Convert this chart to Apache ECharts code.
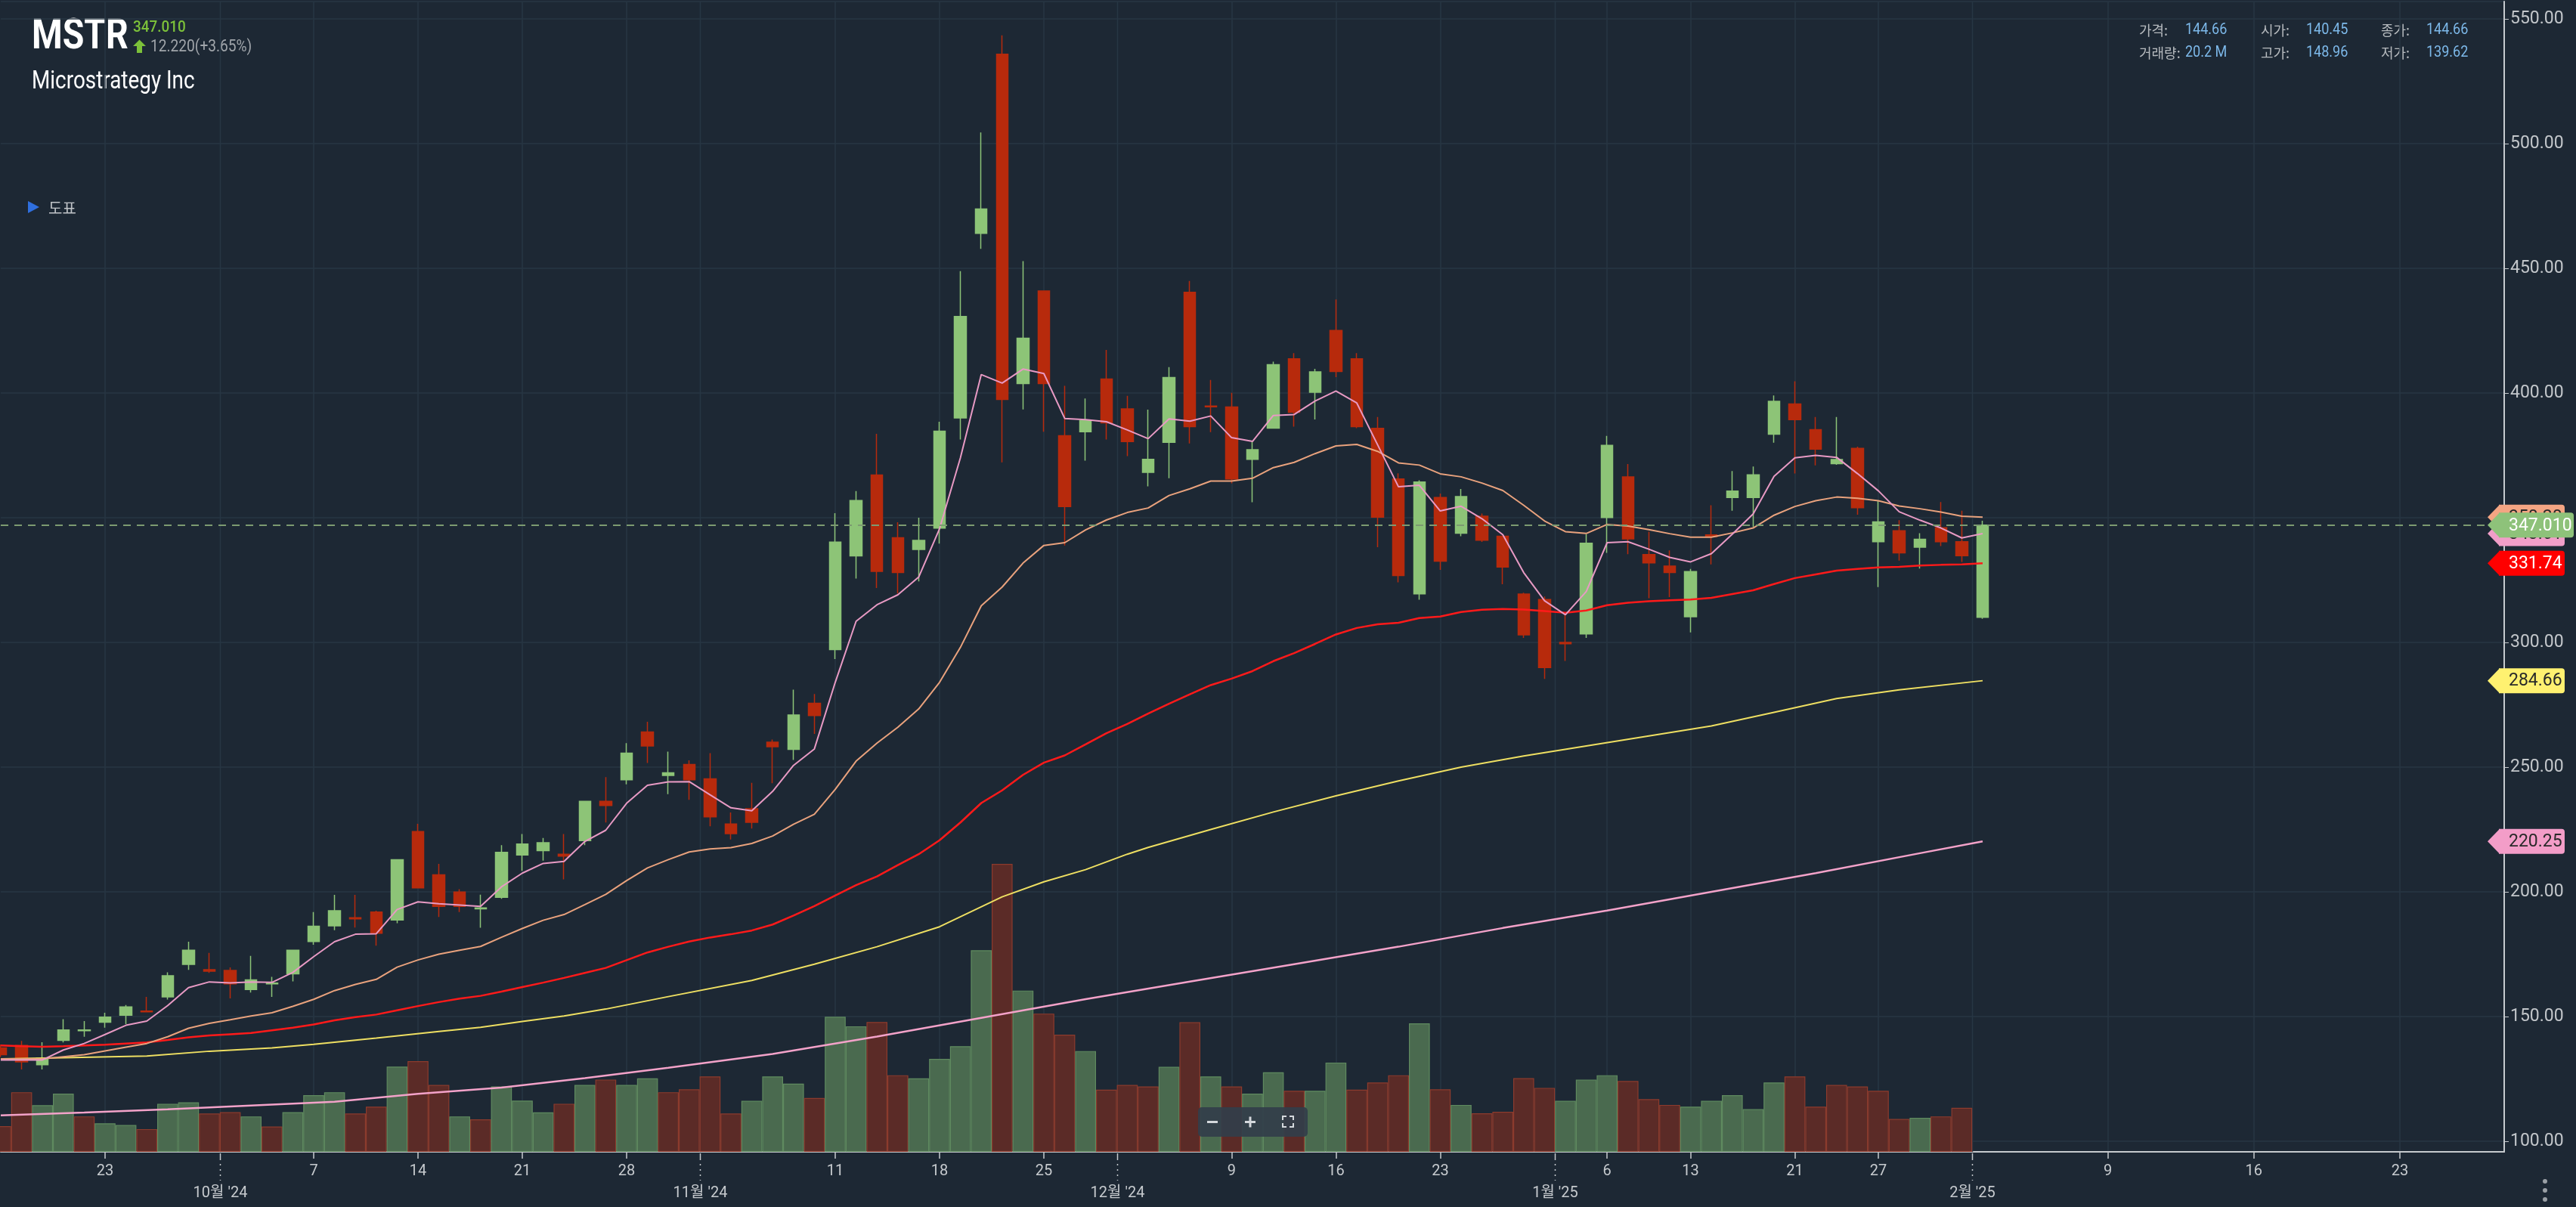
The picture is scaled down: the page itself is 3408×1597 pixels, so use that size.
<!DOCTYPE html>
<html><head><meta charset="utf-8">
<script src="https://cdn.jsdelivr.net/npm/echarts@6/dist/echarts.min.js"></script>
<style>html,body{margin:0;padding:0;background:#1d2834;}#c{width:3408px;height:1597px;}</style>
</head><body><div id="c"></div><script>
const categories = [
'2024-09-16','2024-09-17','2024-09-18','2024-09-19','2024-09-20',
'2024-09-23','2024-09-24','2024-09-25','2024-09-26','2024-09-27',
'2024-09-30','2024-10-01','2024-10-02','2024-10-03','2024-10-04',
'2024-10-07','2024-10-08','2024-10-09','2024-10-10','2024-10-11',
'2024-10-14','2024-10-15','2024-10-16','2024-10-17','2024-10-18',
'2024-10-21','2024-10-22','2024-10-23','2024-10-24','2024-10-25',
'2024-10-28','2024-10-29','2024-10-30','2024-10-31','2024-11-01',
'2024-11-04','2024-11-05','2024-11-06','2024-11-07','2024-11-08',
'2024-11-11','2024-11-12','2024-11-13','2024-11-14','2024-11-15',
'2024-11-18','2024-11-19','2024-11-20','2024-11-21','2024-11-22',
'2024-11-25','2024-11-26','2024-11-27','2024-11-29',
'2024-12-02','2024-12-03','2024-12-04','2024-12-05','2024-12-06',
'2024-12-09','2024-12-10','2024-12-11','2024-12-12','2024-12-13',
'2024-12-16','2024-12-17','2024-12-18','2024-12-19','2024-12-20',
'2024-12-23','2024-12-24','2024-12-26','2024-12-27',
'2024-12-30','2024-12-31','2025-01-02','2025-01-03',
'2025-01-06','2025-01-07','2025-01-08','2025-01-10',
'2025-01-13','2025-01-14','2025-01-15','2025-01-16','2025-01-17',
'2025-01-21','2025-01-22','2025-01-23','2025-01-24',
'2025-01-27','2025-01-28','2025-01-29','2025-01-30','2025-01-31',
'2025-02-03',
'2025-02-04','2025-02-05','2025-02-06','2025-02-07','2025-02-08','2025-02-09','2025-02-10',
'2025-02-11','2025-02-12','2025-02-13','2025-02-14','2025-02-15','2025-02-16','2025-02-17',
'2025-02-18','2025-02-19','2025-02-20','2025-02-21','2025-02-22','2025-02-23','2025-02-24',
'2025-02-25','2025-02-26','2025-02-27','2025-02-28'
];
const opens = [137.4,138.4,130.7,140.45,144.3,147.7,150.5,152.2,157.9,170.9,
168.8,168.5,160.8,163.1,167.1,180.1,186.4,189.6,191.9,188.7,
224.2,206.8,199.9,193.2,197.8,214.8,216.5,215.1,220.5,236.3,
244.9,264.1,246.7,251.1,245.3,227.2,233.3,260.0,257.1,275.6,
297.1,334.7,367.1,342.0,337.3,345.8,390.0,464.0,535.8,403.8,
440.9,382.9,384.5,405.6,393.6,368.2,380.2,440.4,394.8,394.4,
373.4,385.9,413.7,400.3,425.1,413.7,385.8,365.5,319.5,358.1,
343.8,350.6,342.6,319.4,317.2,300.0,303.4,350.1,366.4,335.2,
330.6,310.3,343.1,358.1,358.1,383.5,395.6,385.3,371.7,377.8,
340.4,344.8,338.2,346.0,340.4,310.1];
const highs = [138.8,140.2,139.7,148.96,148.2,151.5,154.6,157.9,167.7,180.0,
175.5,169.7,174.3,165.9,176.6,191.9,198.8,198.8,192.4,213.1,
227.3,211.2,201.1,198.9,218.7,223.2,221.6,223.2,236.5,246.0,
259.6,268.2,256.2,252.7,255.6,231.8,243.7,261.1,281.1,279.3,
351.8,360.7,383.6,348.2,350.0,388.5,448.9,504.5,543.4,452.9,
440.9,402.9,397.8,417.3,398.9,393.3,410.4,444.9,405.2,400.1,
380.3,412.6,416.0,409.7,437.5,416.0,390.4,367.8,365.0,359.7,
361.5,351.7,342.6,319.9,318.4,311.3,343.4,382.8,371.5,344.4,
336.9,329.5,355.0,368.7,370.5,399.0,404.7,390.4,390.4,378.5,
356.8,349.0,343.8,356.3,352.8,348.8];
const lows = [133.8,128.8,128.8,139.62,141.9,145.5,147.0,151.7,156.8,168.7,
167.5,157.3,159.6,157.9,164.1,178.8,184.6,185.7,178.4,187.4,
201.6,189.9,191.9,185.6,197.2,208.4,212.5,205.0,218.7,227.8,
243.1,251.7,239.2,236.9,226.3,221.0,225.4,243.6,252.9,263.3,
293.3,325.6,321.8,319.6,324.5,339.6,381.4,457.8,372.2,393.4,
384.5,338.9,372.9,381.4,374.7,362.6,365.8,379.8,384.3,363.8,
356.2,385.9,386.5,389.4,406.4,385.9,338.2,324.1,317.1,329.1,
342.6,340.3,323.3,301.8,285.4,292.6,301.8,335.9,335.4,317.7,
318.2,304.0,331.3,352.8,346.3,380.1,367.7,371.0,371.2,351.2,
322.2,332.8,329.6,338.6,332.3,309.5];
const closes = [134.7,131.8,133.3,144.66,144.6,149.8,153.9,151.9,166.4,176.6,
168.2,163.1,164.7,163.4,176.6,186.2,192.4,189.2,183.4,212.9,
201.6,194.2,194.2,193.6,215.8,219.2,219.7,214.3,236.3,234.6,
255.6,258.5,247.7,244.9,230.1,223.3,227.9,258.2,270.9,270.7,
340.2,356.9,328.5,328.0,340.9,384.7,430.7,473.8,397.4,422.0,
403.8,354.5,388.9,388.0,380.5,373.4,406.2,386.5,394.5,365.5,
377.3,411.4,392.3,408.5,408.6,386.5,350.2,326.8,364.3,332.6,
358.5,341.0,330.2,303.0,289.9,299.5,339.8,379.0,341.5,331.9,
328.0,328.4,342.4,360.7,367.2,396.7,389.3,377.5,373.3,354.0,
348.3,335.9,341.4,340.4,334.79,347.01];
// volume in millions of shares
const volumes = [8.9,20.7,16.2,20.2,12.3,9.9,9.3,7.9,16.7,17.2,
13.3,13.8,12.3,8.8,13.8,19.7,20.7,13.3,15.7,29.6,
31.5,23.2,12.3,11.3,22.7,17.8,13.7,16.7,23.2,25.1,
23.2,25.5,20.7,21.7,26.2,13.3,17.7,26.2,23.7,18.7,
46.9,43.6,45.1,26.6,25.5,32.3,36.7,70.0,100.0,56.0,
48.0,40.7,35.0,21.6,23.2,22.7,29.5,45.0,26.2,22.7,
20.2,27.6,21.2,21.2,31.0,21.6,24.1,26.6,44.6,21.7,
16.3,13.4,13.9,25.6,22.2,17.7,25.1,26.6,24.6,18.3,
16.3,15.7,17.7,19.7,14.8,24.1,26.2,15.7,23.2,22.7,
21.2,11.4,11.8,12.3,15.3,null];
const ma5 = [132.6,132.6,132.6,136.6,139.2,142.8,146.5,148.2,154.4,161.6,
163.9,163.5,163.9,163.7,167.7,174.0,180.0,183.0,183.2,192.9,
196.0,195.2,194.7,194.2,202.0,207.5,211.4,212.2,220.2,224.7,
235.5,242.7,244.1,244.2,238.9,233.7,232.5,240.3,250.7,257.3,
284.0,308.5,315.1,319.1,326.2,345.6,374.0,407.4,404.0,409.6,
407.8,389.8,389.3,388.5,385.2,381.7,389.6,388.7,390.8,382.1,
380.6,391.0,391.4,396.8,400.8,396.0,379.2,362.4,363.0,352.7,
354.6,349.6,343.2,328.0,316.7,311.1,320.4,340.0,340.4,337.4,
334.1,332.3,335.6,343.4,351.5,366.6,374.0,375.0,374.2,367.7,
360.8,352.4,349.0,345.9,341.9,343.61];
const ma10 = [133.0,133.0,133.0,133.9,134.7,136.2,137.7,139.2,141.9,145.3,
147.3,148.7,150.2,151.5,154.1,156.9,160.4,162.9,164.9,169.8,
172.7,175.0,176.6,178.1,181.8,185.3,188.6,190.9,194.9,199.0,
204.5,209.6,212.9,216.0,217.2,217.7,219.4,222.4,227.1,231.1,
241.1,252.4,259.6,266.0,273.3,284.0,298.0,314.7,322.2,331.8,
338.9,340.0,345.1,349.1,352.1,353.9,358.9,361.6,364.7,364.7,
365.8,370.1,372.2,375.7,378.8,379.4,376.6,372.0,371.1,367.6,
366.4,363.9,360.9,355.0,348.7,344.4,343.7,347.3,346.7,345.2,
343.6,342.2,342.2,343.9,345.9,351.0,354.5,356.8,358.3,357.8,
356.8,354.7,353.6,352.3,350.6,350.2];
const ma20 = [138.4,138.1,137.9,138.1,138.4,138.7,139.2,139.6,140.6,141.7,
142.4,142.9,143.4,144.5,145.5,146.8,148.5,149.8,150.8,152.5,
154.2,155.8,157.2,158.3,160.0,161.8,163.6,165.5,167.5,169.5,
172.6,175.7,178.0,180.1,181.7,183.0,184.5,186.9,190.5,194.3,
198.5,202.7,206.2,210.7,215.1,220.7,227.8,235.6,240.7,246.9,
251.8,254.7,259.1,263.6,267.3,271.5,275.4,279.2,282.9,285.5,
288.5,292.5,295.7,299.4,303.2,305.8,307.3,307.9,309.8,310.4,
312.2,313.1,313.4,313.2,312.6,311.9,312.8,314.9,315.9,316.5,
316.9,317.2,317.9,319.4,320.9,323.4,325.8,327.3,328.8,329.5,
330.1,330.3,330.8,331.1,331.3,331.74];
// [day index, value] read along the slow averages
const ma60 = [[0,133.0],[3,133.5],[7,134.2],[10,136.1],[13,137.4],[15,138.9],[18,141.4],[21,144.0],[23,145.7],[25,148.0],[27,150.2],[29,153.0],[32,158.0],[36,164.5],[39,171.0],[42,178.0],[45,186.0],[48,198.0],[50,204.0],[52,208.9],[54,215.1],[55,217.8],[58,225.0],[61,232.0],[64,238.5],[67,244.5],[70,250.0],[73,254.5],[76,258.5],[79,262.5],[82,266.5],[85,272.0],[88,277.5],[91,281.0],[95,284.66]];
const ma120 = [[0,110.4],[4,111.5],[8,112.8],[12,114.3],[16,115.8],[20,119.0],[24,121.5],[28,125.3],[32,129.5],[37,135.0],[42,142.0],[47,149.5],[52,157.0],[57,164.0],[62,171.0],[67,178.0],[72,185.5],[77,192.5],[82,200.0],[87,207.5],[92,215.5],[95,220.25]];
const dayTicks = ['2024-09-23','2024-10-07','2024-10-14','2024-10-21','2024-10-28','2024-11-11','2024-11-18','2024-11-25','2024-12-09','2024-12-16','2024-12-23','2025-01-06','2025-01-13','2025-01-21','2025-01-27','2025-02-09','2025-02-16','2025-02-23'];
const monthFirstDays = ['2024-10-01','2024-11-01','2024-12-02','2025-01-02','2025-02-03'];
const monthLabels = ["10월 '24","11월 '24","12월 '24","1월 '25","2월 '25"];
const infoIndex = 3;

const BG = '#1d2834', AX = '#c6cace';
const UP = '#8dc477', DOWN = '#b72a0c';
const lastIdx = closes.length - 1;
const yMin = 95.76, yMax = 556.97;
const tickSet = new Set(dayTicks);
const showTick = (i, v) => tickSet.has(v);

const candleData = opens.map((o, i) => [o, closes[i], lows[i], highs[i]]);
const volData = volumes.map((v, i) => {
  const up = i === 0 ? closes[0] >= opens[0] : closes[i] >= closes[i - 1];
  return { value: v, itemStyle: { color: up ? '#4a6a4f' : '#5b2b27', borderColor: up ? '#5f8a5f' : '#8c3b2d' } };
});
const tags = [
  { v: ma10[lastIdx], text: ma10[lastIdx].toFixed(2), color: '#f4a583', tc: '#2a2a2a', w: 83 },
  { v: ma5[lastIdx], text: ma5[lastIdx].toFixed(2), color: '#f19ec8', tc: '#2a2a2a', w: 83 },
  { v: ma20[lastIdx], text: ma20[lastIdx].toFixed(2), color: '#ff0000', tc: '#ffffff', w: 83 },
  { v: ma60[ma60.length - 1][1], text: ma60[ma60.length - 1][1].toFixed(2), color: '#fff170', tc: '#2a2a2a', w: 83 },
  { v: ma120[ma120.length - 1][1], text: ma120[ma120.length - 1][1].toFixed(2), color: '#f39dc8', tc: '#2a2a2a', w: 83 },
  { v: closes[lastIdx], text: closes[lastIdx].toFixed(3), color: '#8ec27a', tc: '#ffffff', w: 95 }
];

const chart = echarts.init(document.getElementById('c'), null, { renderer: 'canvas' });
const gridLine = '#273643';
const lineS = (name, data, color, width) => ({
  name, type: 'line', data, xAxisIndex: 0, yAxisIndex: 0, showSymbol: false, symbol: 'none',
  lineStyle: { color, width }, z: 3, silent: true, connectNulls: true
});

const info = [
  ['가격:', 2830, closes[infoIndex].toFixed(2), 2891, 40],
  ['시가:', 2991, opens[infoIndex].toFixed(2), 3051, 40],
  ['종가:', 3150, closes[infoIndex].toFixed(2), 3210, 40],
  ['거래량:', 2830, volumes[infoIndex].toFixed(1) + ' M', 2891, 70],
  ['고가:', 2991, highs[infoIndex].toFixed(2), 3051, 70],
  ['저가:', 3150, lows[infoIndex].toFixed(2), 3210, 70]
];
const graphics = [
  { type: 'text', x: 42, y: 50, scaleX: 0.83, style: { text: 'MSTR', fill: '#ffffff', font: 'bold 56px Roboto', textVerticalAlign: 'middle' } },
  { type: 'text', x: 176, y: 37, scaleX: 0.9, style: { text: closes[lastIdx].toFixed(3), fill: '#7cc13a', font: '500 21px Roboto', textVerticalAlign: 'middle' } },
  { type: 'polygon', shape: { points: [[176, 61], [184.5, 52.5], [193, 61], [188, 61], [188, 70], [181, 70], [181, 61]] }, style: { fill: '#7cc13a' } },
  { type: 'text', x: 199, y: 62, scaleX: 0.87, style: { text: (closes[lastIdx] - closes[lastIdx - 1]).toFixed(3) + '(+' + ((closes[lastIdx] / closes[lastIdx - 1] - 1) * 100).toFixed(2) + '%)', fill: '#a0a5aa', font: '22px Roboto', textVerticalAlign: 'middle' } },
  { type: 'text', x: 42, y: 108, scaleX: 0.82, style: { text: 'Microstrategy Inc', fill: '#ffffff', font: '34px Roboto', textVerticalAlign: 'middle' } },
  { type: 'polygon', shape: { points: [[37, 266], [52, 274], [37, 282]] }, style: { fill: '#2f6fde' } },
  { type: 'text', x: 64, y: 275, style: { text: '도표', fill: '#bfc3c7', font: '20px "Noto Sans CJK KR"', textVerticalAlign: 'middle' } },
  { type: 'rect', shape: { x: 1585, y: 1465, width: 145, height: 39, r: 5 }, style: { fill: 'rgba(50,62,74,0.92)' }, z: 100 },
  { type: 'rect', shape: { x: 1597, y: 1483, width: 14, height: 3 }, style: { fill: '#d4d8dc' }, z: 101 },
  { type: 'rect', shape: { x: 1647, y: 1483, width: 14, height: 3 }, style: { fill: '#d4d8dc' }, z: 101 },
  { type: 'rect', shape: { x: 1652.5, y: 1477.5, width: 3, height: 14 }, style: { fill: '#d4d8dc' }, z: 101 },
  { type: 'polyline', shape: { points: [[1697, 1482], [1697, 1477], [1702, 1477]] }, style: { stroke: '#d4d8dc', lineWidth: 2, fill: null }, z: 101 },
  { type: 'polyline', shape: { points: [[1706, 1477], [1711, 1477], [1711, 1482]] }, style: { stroke: '#d4d8dc', lineWidth: 2, fill: null }, z: 101 },
  { type: 'polyline', shape: { points: [[1697, 1486], [1697, 1491], [1702, 1491]] }, style: { stroke: '#d4d8dc', lineWidth: 2, fill: null }, z: 101 },
  { type: 'polyline', shape: { points: [[1706, 1491], [1711, 1491], [1711, 1486]] }, style: { stroke: '#d4d8dc', lineWidth: 2, fill: null }, z: 101 },
  { type: 'circle', shape: { cx: 3367, cy: 1563, r: 3 }, style: { fill: '#9aa0a6' } },
  { type: 'circle', shape: { cx: 3367, cy: 1575, r: 3 }, style: { fill: '#9aa0a6' } },
  { type: 'circle', shape: { cx: 3367, cy: 1587, r: 3 }, style: { fill: '#9aa0a6' } }
];
info.forEach(r => {
  graphics.push({ type: 'text', x: r[1], y: r[4], style: { text: r[0], fill: '#b6babe', font: '18px "Noto Sans CJK KR"', textVerticalAlign: 'middle' } });
  graphics.push({ type: 'text', x: r[3], y: r[4], scaleX: 0.9, style: { text: r[2], fill: '#7db9ea', font: '20px Roboto', textVerticalAlign: 'middle' } });
});

chart.setOption({
  backgroundColor: BG,
  animation: false,
  grid: { left: 1, right: 95, top: 2, bottom: 73, outerBoundsMode: 'none', containLabel: false },
  xAxis: [{
    type: 'category', data: categories, boundaryGap: false,
    axisLine: { show: true, lineStyle: { color: AX, width: 2 } },
    axisTick: { show: true, interval: showTick, length: 9, lineStyle: { color: AX, width: 1.5 } },
    axisLabel: { interval: showTick, formatter: v => String(parseInt(v.slice(8), 10)), color: AX, fontSize: 20, fontFamily: 'Roboto', margin: 16 },
    splitLine: { show: true, interval: showTick, lineStyle: { color: gridLine, width: 1.5 } }
  }],
  yAxis: [{
    type: 'value', position: 'right', min: yMin, max: yMax, splitNumber: 9, scale: true,
    axisLine: { show: true, lineStyle: { color: AX, width: 2 } },
    axisTick: { show: true, length: 6, lineStyle: { color: AX } },
    axisLabel: { showMinLabel: false, showMaxLabel: false, margin: 8, color: '#c2c6ca', fontSize: 23, fontFamily: 'Roboto',
      formatter: v => Math.abs(v / 50 - Math.round(v / 50)) < 1e-6 ? v.toFixed(2) : '' },
    splitLine: { show: true, lineStyle: { color: gridLine, width: 1.5 } }
  }, {
    type: 'value', min: 0, max: 399.5, show: false, splitLine: { show: false }
  }],
  series: [
    { name: 'volume', type: 'bar', data: volData, xAxisIndex: 0, yAxisIndex: 1, barWidth: '100%', barGap: '0%', z: 1, silent: true,
      itemStyle: { borderWidth: 1.2 } },
    {
      type: 'custom', xAxisIndex: 0, yAxisIndex: 0, clip: false, silent: true, z: 1,
      data: monthFirstDays.map((d, i) => [categories.indexOf(d), i]),
      renderItem: function (params, api) {
        const idx = api.value(0);
        const cs = params.coordSys;
        const xa = api.coord([idx - 1, yMin])[0], xb = api.coord([idx, yMin])[0];
        const x = Math.round((xa + xb) / 2) + 0.5;
        const bottom = cs.y + cs.height;
        return { type: 'group', children: [
          { type: 'line', shape: { x1: x, y1: cs.y, x2: x, y2: bottom }, style: { stroke: gridLine, lineWidth: 1.5 } },
          { type: 'line', shape: { x1: x, y1: bottom + 2, x2: x, y2: bottom + 11 }, style: { stroke: AX, lineWidth: 1.5 } },
          { type: 'line', shape: { x1: x, y1: bottom + 16, x2: x, y2: bottom + 38 }, style: { stroke: AX, lineWidth: 1.5, lineDash: [2, 5] } },
          { type: 'text', style: { x: x, y: bottom + 55, text: monthLabels[api.value(1)], fill: AX, font: '20px Roboto, "Noto Sans CJK KR"', textAlign: 'center', textVerticalAlign: 'middle' } }
        ] };
      }
    },
    {
      name: 'price', type: 'candlestick', data: candleData, xAxisIndex: 0, yAxisIndex: 0, barWidth: 16, z: 2, silent: true,
      itemStyle: { color: UP, color0: DOWN, borderColor: UP, borderColor0: DOWN, borderWidth: 1.5 },
      markLine: { symbol: 'none', silent: true, label: { show: false }, animation: false,
        lineStyle: { type: [10, 8], color: '#7c9b71', width: 2 }, data: [{ yAxis: closes[lastIdx] }] }
    },
    lineS('ma120', ma120, '#f3a2c9', 2.5),
    lineS('ma60', ma60, '#eedf62', 2),
    lineS('ma20', ma20, '#ff1a1a', 2.5),
    lineS('ma10', ma10, '#e9a27d', 2),
    lineS('ma5', ma5, '#e89ac4', 2),
    {
      type: 'custom', xAxisIndex: 0, yAxisIndex: 0, clip: false, silent: true, z: 20,
      data: tags.map(t => [0, t.v]),
      renderItem: function (params, api) {
        const t = tags[params.dataIndex];
        const cs = params.coordSys;
        const y = api.coord([0, api.value(1)])[1];
        const ax = cs.x + cs.width - 3;
        const h = 33, bl = ax - 4, br = ax + t.w;
        return { type: 'group', children: [
          { type: 'polygon', shape: { points: [[ax - 19, y], [bl + 1, y - h / 2], [bl + 1, y + h / 2]] }, style: { fill: t.color } },
          { type: 'rect', shape: { x: bl, y: y - h / 2, width: br - bl, height: h, r: [0, 4, 4, 0] }, style: { fill: t.color } },
          { type: 'text', style: { x: ax + 9, y: y + 1, text: t.text, fill: t.tc, font: '23px Roboto', textAlign: 'left', textVerticalAlign: 'middle' } }
        ] };
      }
    }
  ],
  graphic: graphics
});
</script></body></html>
